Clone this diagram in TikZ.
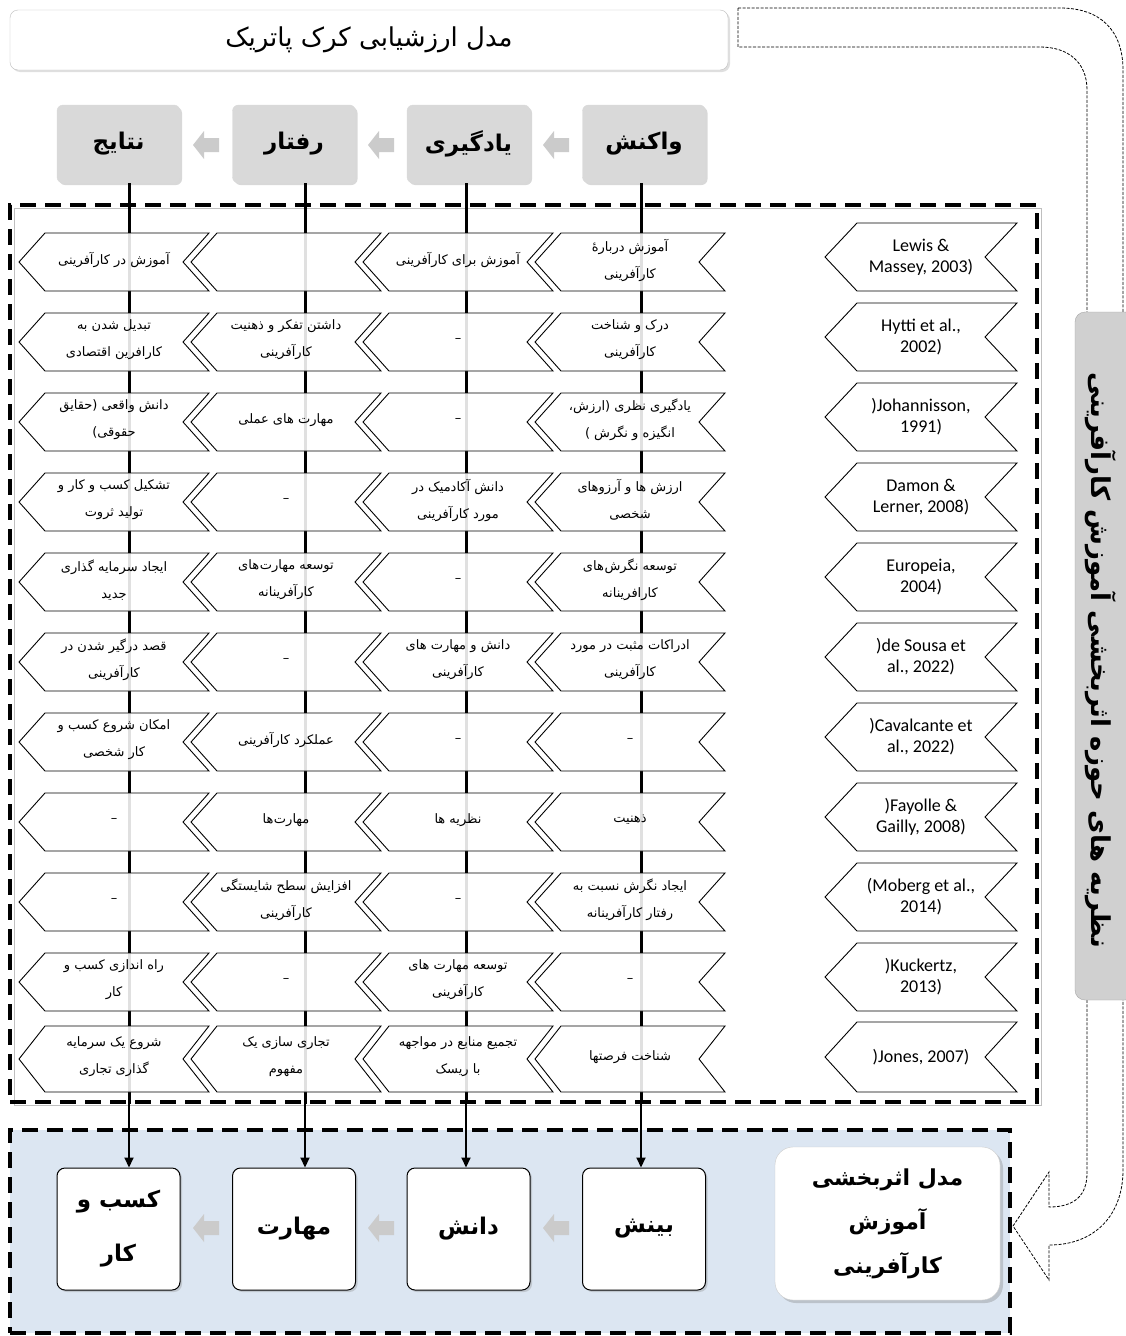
\documentclass[tikz,border=0pt]{standalone}
\usepackage{fontspec}
\usetikzlibrary{shadows,arrows.meta}
\TeXXeTstate=1
\newfontfamily\farsi[Script=Arabic]{DejaVu Sans}
\newfontfamily\reffont{Carlito}
\newcommand{\fa}[1]{{\farsi\beginR #1\endR}}
\newcommand{\nj}{\kern0.6pt}
\definecolor{hdrgray}{HTML}{D9D9D9}
\definecolor{sidegray}{HTML}{D0D0D0}
\definecolor{bluebg}{HTML}{DCE6F2}
\definecolor{arrgray}{HTML}{CBCBCB}
\newcommand{\mychev}[6]{%
  \filldraw[chevst] (#2,{(#4+#5)/2}) -- (#2+#6,#4) -- (#3,#4) -- (#3-#6,{(#4+#5)/2}) -- (#3,#5) -- (#2+#6,#5) -- cycle;
  \coordinate (#1) at ({(#2+#3)/2},{(#4+#5)/2});}
\newcommand{\celltxt}[2]{%
  \if\relax\detokenize{#2}\relax\else\node[celltext] (t#1) at ([yshift=2pt]r#1) {#2};\fi}
\newcommand{\chrow}[9]{%
  \mychev{r#1c1}{19}{209}{#2}{#3}{26}%
  \mychev{r#1c2}{191}{381}{#2}{#3}{26}%
  \mychev{r#1c3}{363}{553}{#2}{#3}{26}%
  \mychev{r#1c4}{535}{725}{#2}{#3}{26}%
  \mychev{r#1rf}{825}{1017}{#4}{#3}{32}%
  \node[reftext] (t#1rf) at (r#1rf) {#5};%
  \celltxt{#1c4}{#6}%
  \celltxt{#1c3}{#7}%
  \celltxt{#1c2}{#8}%
  \celltxt{#1c1}{#9}}
\newcommand{\blockarrow}[2]{%
  \fill[arrgray] (#1-13,#2) -- (#1-2,#2-14) -- (#1-2,#2-7) -- (#1+13,#2-7) -- (#1+13,#2+7) -- (#1-2,#2+7) -- (#1-2,#2+14) -- cycle;}
\begin{document}
\begin{tikzpicture}[x=1pt,y=-1pt,
  chevst/.style={draw=black,line width=0.9pt,fill=white,fill opacity=0.88},
  celltext/.style={inner sep=0pt,align=center,font=\fontsize{13}{27}\selectfont},
  reftext/.style={inner sep=0pt,align=center,font=\reffont\fontsize{18}{21}\selectfont},
  hdr/.style={fill=hdrgray,draw=gray!30,rounded corners=6pt,minimum width=123pt,minimum height=78pt,inner sep=0pt,
    drop shadow={shadow xshift=2pt,shadow yshift=-2pt,opacity=0.3},font=\bfseries\fontsize{23}{26}\selectfont},
  btm/.style={fill=white,draw=black,line width=1pt,rounded corners=8pt,minimum width=123pt,minimum height=122pt,inner sep=0pt,
    drop shadow={shadow xshift=2pt,shadow yshift=-2pt,opacity=0.3},align=center,font=\bfseries\fontsize{23}{54}\selectfont},
  bigbox/.style={fill=white,draw=gray!40,rounded corners=18pt,minimum width=225pt,minimum height=153pt,inner sep=0pt,
    drop shadow={shadow xshift=3pt,shadow yshift=-3pt,opacity=0.35},align=center,font=\bfseries\fontsize{22}{44}\selectfont},
  titlebox/.style={fill=white,draw=gray!50,rounded corners=8pt,minimum width=718pt,minimum height=60pt,inner sep=0pt,
    drop shadow={shadow xshift=2pt,shadow yshift=-2pt,opacity=0.25},font=\fontsize{26}{30}\selectfont},
  panelst/.style={draw=black,line width=3.5pt,dash pattern=on 16pt off 9pt,inner sep=0pt},
  vline/.style={draw=black,line width=3pt},
  vlarrow/.style={draw=black,line width=2pt,-{Triangle[length=10pt,width=9pt]}},
  outarrow/.style={draw=black,line width=0.8pt,dash pattern=on 3pt off 1.5pt},
  sidebox/.style={fill=sidegray,draw=gray!70,rounded corners=10pt,minimum width=60pt,minimum height=688pt,inner sep=0pt},
  sidetext/.style={inner sep=0pt,font=\bfseries\fontsize{26}{30}\selectfont}]
\useasboundingbox (0,0) rectangle (1126,1336);
\fill[white] (0,0) rectangle (1126,1336);
% title and U-turn arrow
\draw[outarrow] (738,8) -- (1060,8) .. controls (1100,8) and (1123,30) .. (1123,70) -- (1123,1170)
  .. controls (1123,1215) and (1095,1245) .. (1049,1245) -- (1049,1280) -- (1013,1226) -- (1049,1172)
  -- (1049,1207) .. controls (1075,1207) and (1087,1195) .. (1087,1173) -- (1087,90)
  .. controls (1087,62) and (1068,47) .. (1040,47) -- (738,47) -- cycle;
\node[titlebox] (title) at (369,40) {\fa{مدل ارزشیابی کرک پاتریک}};
% header boxes
\node[hdr] (h1) at (118.5,144) {\fa{نتایج}};
\node[hdr] (h2) at (294,144) {\fa{رفتار}};
\node[hdr] (h3) at (468.5,144) {\fa{یادگیری}};
\node[hdr] (h4) at (644,144) {\fa{واکنش}};
\blockarrow{206}{145}
\blockarrow{381}{145}
\blockarrow{556}{145}
% panels
\draw[gray!50,line width=0.6pt] (14,208) rectangle (1041,1105);
\node[panelst,minimum width=1027pt,minimum height=897pt] (panel) at (523.5,653.5) {};
\node[panelst,fill=bluebg,minimum width=1000pt,minimum height=203pt] (bpanel) at (510,1231.5) {};
% column guide coordinates
\coordinate (c1) at (129,0);
\coordinate (c2) at (305,0);
\coordinate (c3) at (466,0);
\coordinate (c4) at (641,0);
% bottom boxes
\node[btm] (b1) at (118.5,1229) {\fa{کسب و}\\\fa{کار}};
\node[btm] (b2) at (294,1229) {\fa{مهارت}};
\node[btm] (b3) at (468.5,1229) {\fa{دانش}};
\node[btm] (b4) at (644,1229) {\fa{بینش}};
\node[bigbox] (model) at (887.5,1223.5) {\fa{مدل اثربخشی}\\\fa{آموزش}\\\fa{کارآفرینی}};
\blockarrow{206}{1228}
\blockarrow{381}{1228}
\blockarrow{556}{1228}
% vertical lines
\draw[vline] (h1.south -| c1) -- (c1 |- panel.south);
\draw[vline] (h2.south -| c2) -- (c2 |- panel.south);
\draw[vline] (h3.south -| c3) -- (c3 |- panel.south);
\draw[vline] (h4.south -| c4) -- (c4 |- panel.south);
\draw[vlarrow] (c1 |- panel.south) -- (b1.north -| c1);
\draw[vlarrow] (c2 |- panel.south) -- (b2.north -| c2);
\draw[vlarrow] (c3 |- panel.south) -- (b3.north -| c3);
\draw[vlarrow] (c4 |- panel.south) -- (b4.north -| c4);
% rows
\chrow{1}{233}{291}{223}{Lewis \&\\Massey, 2003)}{\fa{آموزش دربارهٔ}\\\fa{کارآفرینی}}{\fa{آموزش برای کارآفرینی}}{}{\fa{آموزش در کارآفرینی}}
\chrow{2}{313}{371}{303}{Hytti et al.,\\2002)}{\fa{درک و شناخت}\\\fa{کارآفرینی}}{\fa{–}}{\fa{داشتن تفکر و ذهنیت}\\\fa{کارآفرینی}}{\fa{تبدیل شدن به}\\\fa{کارافرین اقتصادی}}
\chrow{3}{393}{451}{383}{)Johannisson,\\1991)}{\fa{یادگیری نظری (ارزش،}\\\fa{انگیزه و نگرش )}}{\fa{–}}{\fa{مهارت های عملی}}{\fa{دانش واقعی (حقایق}\\\fa{حقوقی)}}
\chrow{4}{473}{531}{463}{Damon \&\\Lerner, 2008)}{\fa{ارزش ها و آرزوهای}\\\fa{شخصی}}{\fa{دانش آکادمیک در}\\\fa{مورد کارآفرینی}}{\fa{–}}{\fa{تشکیل کسب و کار و}\\\fa{تولید ثروت}}
\chrow{5}{553}{611}{543}{Europeia,\\2004)}{\fa{توسعه نگرش\nj های}\\\fa{کارافرینانه}}{\fa{–}}{\fa{توسعه مهارت\nj های}\\\fa{کارآفرینانه}}{\fa{ایجاد سرمایه گذاری}\\\fa{جدید}}
\chrow{6}{633}{691}{623}{)de Sousa et\\al., 2022)}{\fa{ادراکات مثبت در مورد}\\\fa{کارآفرینی}}{\fa{دانش و مهارت های}\\\fa{کارآفرینی}}{\fa{–}}{\fa{قصد درگیر شدن در}\\\fa{کارآفرینی}}
\chrow{7}{713}{771}{703}{)Cavalcante et\\al., 2022)}{\fa{–}}{\fa{–}}{\fa{عملکرد کارآفرینی}}{\fa{امکان شروع کسب و}\\\fa{کار شخصی}}
\chrow{8}{793}{851}{783}{)Fayolle \&\\Gailly, 2008)}{\fa{ذهنیت}}{\fa{نظریه ها}}{\fa{مهارت\nj ها}}{\fa{–}}
\chrow{9}{873}{931}{863}{(Moberg et al.,\\2014)}{\fa{ایجاد نگرش نسبت به}\\\fa{رفتار کارآفرینانه}}{\fa{–}}{\fa{افزایش سطح شایستگی}\\\fa{کارآفرینی}}{\fa{–}}
\chrow{10}{953}{1011}{943}{)Kuckertz,\\2013)}{\fa{–}}{\fa{توسعه مهارت های}\\\fa{کارآفرینی}}{\fa{–}}{\fa{راه اندازی کسب و}\\\fa{کار}}
\chrow{11}{1026}{1092}{1022}{)Jones, 2007)}{\fa{شناخت فرصتها}}{\fa{تجمیع منابع در مواجهه}\\\fa{با ریسک}}{\fa{تجاری سازی یک}\\\fa{مفهوم}}{\fa{شروع یک سرمایه}\\\fa{گذاری تجاری}}
% side label
\begin{scope}
\clip (0,0) rectangle (1126,1336);
\node[sidebox] (side) at (1105,656) {};
\node[sidetext,rotate=-90] (sidelabel) at (1101,660) {\fa{نظریه های حوزه اثربخشی آموزش کارآفرینی}};
\end{scope}
\end{tikzpicture}
\end{document}
